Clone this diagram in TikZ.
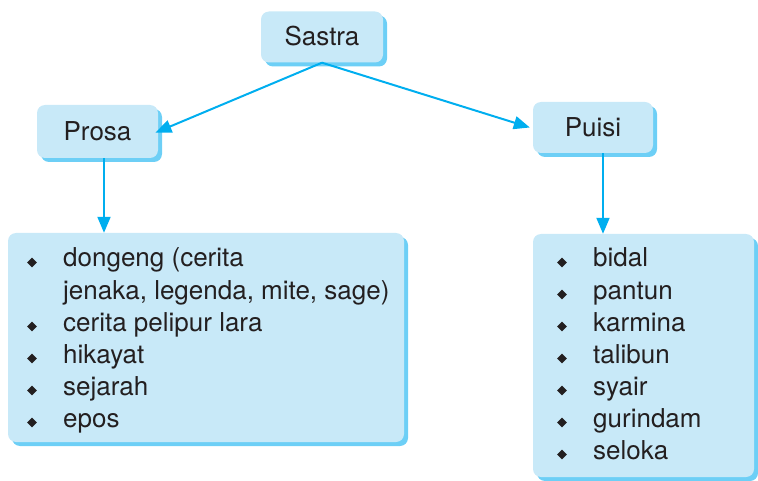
\documentclass[tikz,border=0pt]{standalone}
\usepackage{fontspec}
\setmainfont{TeX Gyre Heros}
\usetikzlibrary{arrows.meta,shadows,shapes.geometric}
\definecolor{boxblue}{HTML}{C8E9F8}
\definecolor{shadeblue}{HTML}{6DCFF6}
\definecolor{arrowblue}{HTML}{00AEEF}
\definecolor{txt}{HTML}{231F20}
\tikzset{
  bluebox/.style={rounded corners=8pt, fill=boxblue, draw=none,
    drop shadow={shadow xshift=4pt, shadow yshift=-4pt, fill=shadeblue, opacity=1},
    inner sep=0pt},
  conn/.style={draw=arrowblue, line width=2pt, -{Triangle[length=16pt,width=13pt]}},
  itemtext/.style={anchor=base west, inner sep=0pt, text=txt,
    font=\fontsize{26}{32}\selectfont},
  bul/.style={diamond, fill=txt, inner sep=0pt, minimum width=10pt, minimum height=10pt},
}
\begin{document}
\begin{tikzpicture}[x=1pt,y=-1pt]
\useasboundingbox (0,0) rectangle (758,481);
% boxes
\node[bluebox, minimum width=122pt, minimum height=51pt] (sastra) at (322,37) {};
\node[itemtext, anchor=center] (tsastra) at (322,36) {Sastra};
\node[bluebox, minimum width=121pt, minimum height=53pt] (prosa) at (97.5,131.5) {};
\node[itemtext, anchor=center] (tprosa) at (97.5,131) {Prosa};
\node[bluebox, minimum width=120pt, minimum height=51pt] (puisi) at (593,127.5) {};
\node[itemtext, anchor=center] (tpuisi) at (593,127) {Puisi};
\node[bluebox, minimum width=396pt, minimum height=209pt] (left) at (206,337.5) {};
\node[bluebox, minimum width=221pt, minimum height=243pt] (right) at (643.5,355.5) {};
% connectors
\draw[conn, shorten >=-3pt] (sastra.south) -- (prosa.east);
\draw[conn] (sastra.south) -- ([xshift=-3pt]puisi.west);
\draw[conn] ([xshift=6.5pt]prosa.south) -- ([xshift=6.5pt]prosa.south |- left.north);
\draw[conn] ([xshift=10pt]puisi.south) -- ([xshift=10pt]puisi.south |- right.north);
% left list
\node[itemtext] (l1) at (63,267) {dongeng (cerita};
\node[itemtext] (l1b) at (63,299) {jenaka, legenda, mite, sage)};
\node[itemtext] (l2) at (63,331) {cerita pelipur lara};
\node[itemtext] (l3) at (63,363) {hikayat};
\node[itemtext] (l4) at (63,395) {sejarah};
\node[itemtext] (l5) at (63,427) {epos};
\foreach \yy/\nn in {267/1,331/2,363/3,395/4,427/5}
  \node[bul] (lb\nn) at (32,\yy-4.5) {};
% right list
\foreach \itm [count=\i from 0] in {bidal,pantun,karmina,talibun,syair,gurindam,seloka}{
  \node[itemtext] (r\i) at (593,267+32*\i) {\itm};
  \node[bul] (rb\i) at (562,262.5+32*\i) {};
}
\end{tikzpicture}
\end{document}
